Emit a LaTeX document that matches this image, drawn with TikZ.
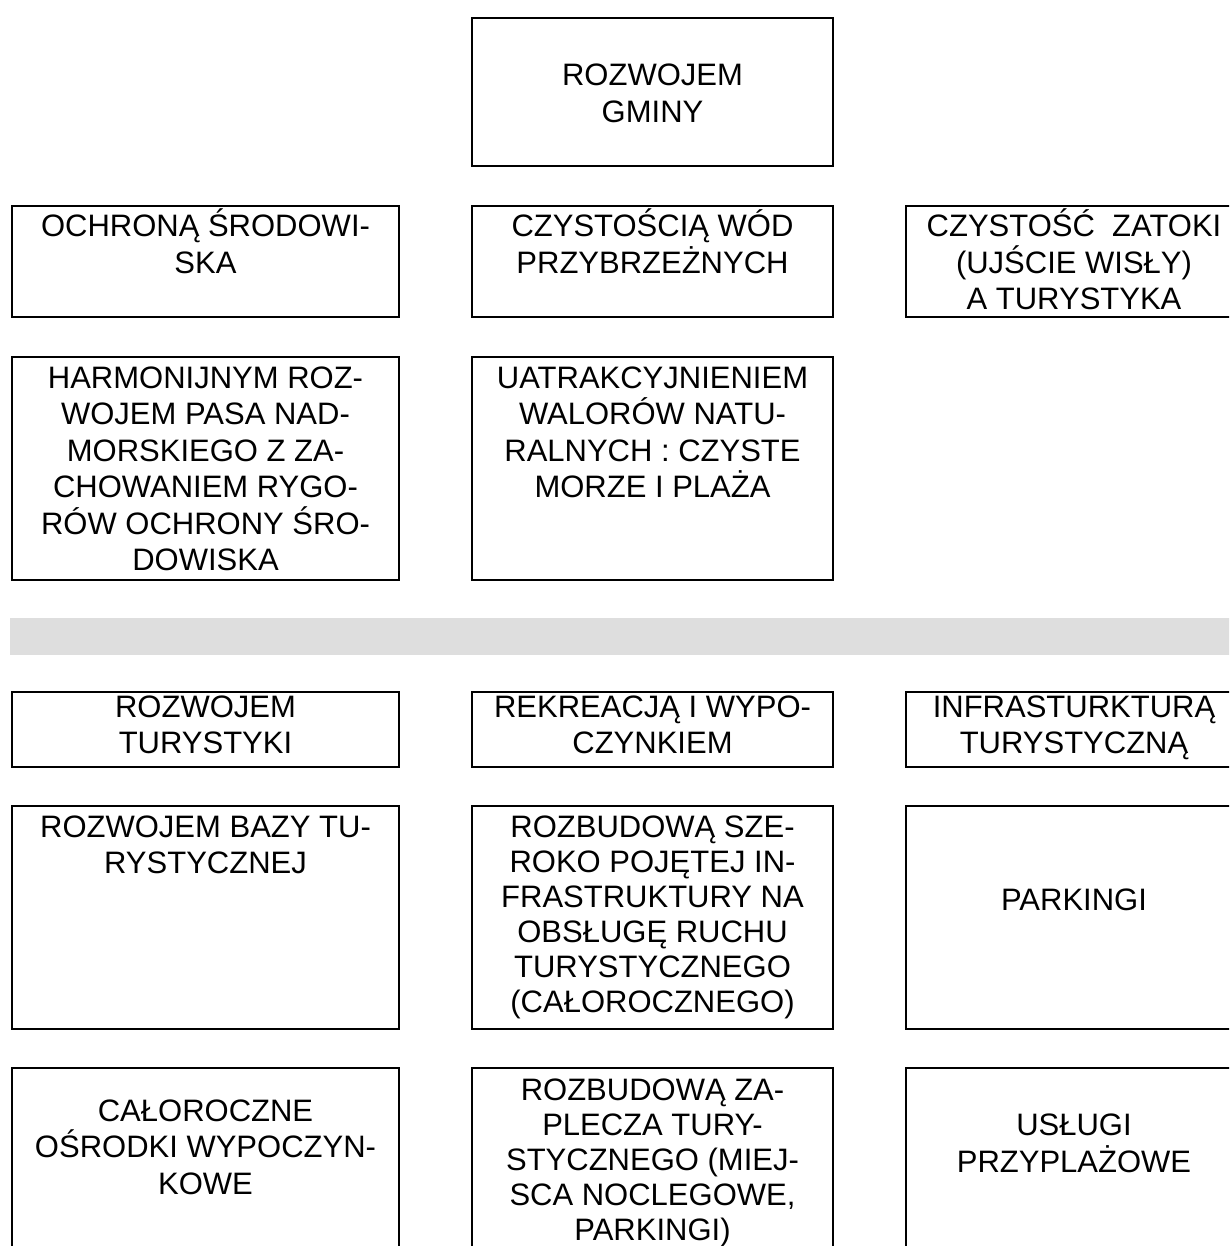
\documentclass[tikz,border=0pt]{standalone}
\usepackage{fontspec}
\newfontfamily\cellfont{Liberation Sans}
\usetikzlibrary{positioning}
\definecolor{pasgray}{HTML}{DEDEDE}
\newcommand{\celltxt}[4]{\parbox[c][#2][t]{#1}{\centering\rule{0pt}{#3}#4\par}}

\begin{document}
\begin{tikzpicture}[node distance=40pt, auto]
  \tikzstyle{cell} = [rectangle, draw, line width=2pt, inner sep=0pt, outer sep=0pt, font=\cellfont\fontsize{31pt}{36.5pt}\selectfont]
  \tikzstyle{band} = [rectangle, fill=pasgray, inner sep=0pt, outer sep=0pt, minimum width=1250pt, minimum height=37pt]

  \useasboundingbox (0,0) rectangle (1229pt,-1246pt);
  \clip (0,0) rectangle (1229pt,-1246pt);

  \node [cell, anchor=north west] (gminy) at (472pt,-18pt) {\celltxt{361pt}{148pt}{68pt}{ROZWOJEM\\GMINY}};

  \node [cell, below=40pt of gminy] (wody) {\celltxt{361pt}{111pt}{31pt}{CZYSTOŚCIĄ WÓD\\PRZYBRZEŻNYCH}};
  \node [cell, left=73pt of wody] (ochrona) {\celltxt{387pt}{111pt}{31pt}{OCHRONĄ ŚRODOWI-\\SKA}};
  \node [cell, right=73pt of wody] (zatoka) {\celltxt{336pt}{111pt}{31pt}{CZYSTOŚĆ\ \ ZATOKI\\(UJŚCIE WISŁY)\\A TURYSTYKA}};

  \node [cell, below=40pt of wody] (walory) {\celltxt{361pt}{223pt}{31pt}{UATRAKCYJNIENIEM\\WALORÓW NATU-\\RALNYCH : CZYSTE\\MORZE I PLAŻA}};
  \node [cell, left=73pt of walory] (pas) {\celltxt{387pt}{223pt}{31pt}{HARMONIJNYM ROZ-\\WOJEM PASA NAD-\\MORSKIEGO Z ZA-\\CHOWANIEM RYGO-\\RÓW OCHRONY ŚRO-\\DOWISKA}};

  \node [band, anchor=north west] (pasek) at ([xshift=-2pt, yshift=-38pt]pas.south west) {};

  \node [cell, anchor=north west] (turystyka) at ([xshift=2pt, yshift=-37pt]pasek.south west) {\celltxt{387pt}{75pt}{25pt}{ROZWOJEM\\TURYSTYKI}};
  \node [cell, right=73pt of turystyka] (rekreacja) {\celltxt{361pt}{75pt}{25pt}{REKREACJĄ I WYPO-\\CZYNKIEM}};
  \node [cell, right=73pt of rekreacja] (infra) {\celltxt{336pt}{75pt}{25pt}{INFRASTURKTURĄ\\TURYSTYCZNĄ}};

  \node [cell, below=39pt of turystyka] (baza) {\celltxt{387pt}{223pt}{31pt}{ROZWOJEM BAZY TU-\\RYSTYCZNEJ}};
  \node [cell, right=73pt of baza] (rozbudowa) {\celltxt{361pt}{223pt}{31pt}{\baselineskip=35pt ROZBUDOWĄ SZE-\\ROKO POJĘTEJ IN-\\FRASTRUKTURY NA\\OBSŁUGĘ RUCHU\\TURYSTYCZNEGO\\(CAŁOROCZNEGO)}};
  \node [cell, right=73pt of rozbudowa] (parkingi) {\celltxt{336pt}{223pt}{104pt}{PARKINGI}};

  \node [cell, below=39pt of baza] (osrodki) {\celltxt{387pt}{223pt}{53pt}{CAŁOROCZNE\\OŚRODKI WYPOCZYN-\\KOWE}};
  \node [cell, right=73pt of osrodki] (zaplecze) {\celltxt{361pt}{223pt}{32pt}{\baselineskip=35pt ROZBUDOWĄ ZA-\\PLECZA TURY-\\STYCZNEGO (MIEJ-\\SCA NOCLEGOWE,\\PARKINGI)}};
  \node [cell, right=73pt of zaplecze] (uslugi) {\celltxt{336pt}{223pt}{67.5pt}{USŁUGI\\PRZYPLAŻOWE}};
\end{tikzpicture}
\end{document}
